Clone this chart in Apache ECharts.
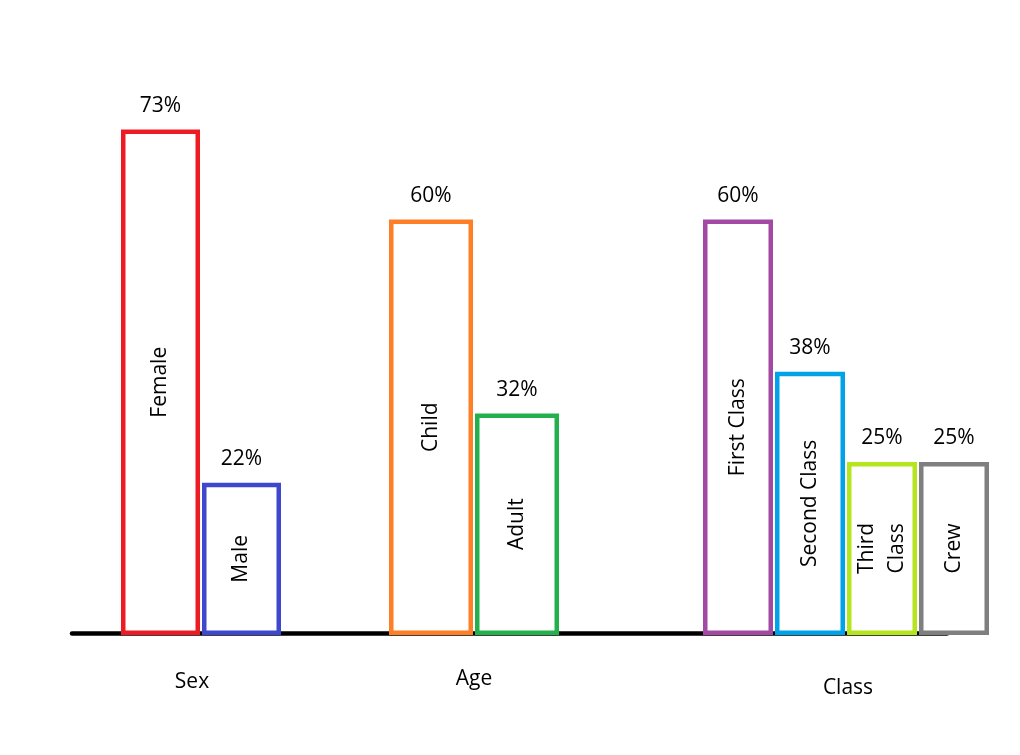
<!DOCTYPE html>
<html><head><meta charset="utf-8">
<script src="https://cdn.jsdelivr.net/npm/echarts@6/dist/echarts.min.js"></script>
<style>html,body{margin:0;background:#fff}#c{width:1020px;height:755px}</style>
</head><body><div id="c"></div>
<script>
const groupNames = ['Sex', 'Age', 'Class'];
const sexCats = ['Female', 'Male'];
const sexVals = [73, 22];
const ageCats = ['Child', 'Adult'];
const ageVals = [60, 32];
const classCats = ['First Class', 'Second Class', 'Third\nClass', 'Crew'];
const classVals = [60, 38, 25, 25];
const sexColors = ['#ED1C24', '#3F48CC'];
const ageColors = ['#FF7F27', '#22B14C'];
const classColors = ['#A349A4', '#00A2E8', '#B5E61D', '#7F7F7F'];

const FONT = 'Open Sans';
const groups = [
  { name: groupNames[0], cats: sexCats, vals: sexVals, colors: sexColors, left: 120, width: 162, bw: 79, nameGap: 37, pad: [0, 18, 0, 0] },
  { name: groupNames[1], cats: ageCats, vals: ageVals, colors: ageColors, left: 388, width: 172, bw: 84, nameGap: 34, pad: [0, 0, 0, 0] },
  { name: groupNames[2], cats: classCats, vals: classVals, colors: classColors, left: 702, width: 288, bw: 70, nameGap: 43, pad: [0, 0, 0, 4] }
];

const grid = [], xAxis = [], yAxis = [], series = [];
groups.forEach((g, i) => {
  grid.push({ left: g.left, width: g.width, top: 81, bottom: 120 });
  xAxis.push({
    type: 'category', gridIndex: i, data: g.cats,
    name: g.name, nameLocation: 'middle', nameGap: g.nameGap,
    nameTextStyle: { fontFamily: FONT, fontSize: 21, color: '#000', padding: g.pad },
    axisLine: { show: false }, axisTick: { show: false }, axisLabel: { show: false }
  });
  yAxis.push({ type: 'value', gridIndex: i, min: 0, max: 80, show: false, splitLine: { show: false } });
  const items = g.vals.map((v, k) => ({
    value: v,
    itemStyle: { color: '#ffffff', borderColor: g.colors[k], borderWidth: 4.5 }
  }));
  series.push({
    type: 'bar', xAxisIndex: i, yAxisIndex: i, data: items,
    barWidth: g.bw, barGap: '-100%', z: 3,
    label: {
      show: true, position: 'inside', rotate: 90, formatter: '{b}',
      fontFamily: FONT, fontSize: 21, color: '#000', lineHeight: 30
    }
  });
  series.push({
    type: 'bar', xAxisIndex: i, yAxisIndex: i, data: g.vals,
    barWidth: g.bw, barGap: '-100%', z: 4, silent: true,
    itemStyle: { color: 'rgba(0,0,0,0)' },
    label: {
      show: true, position: 'top', distance: 13, formatter: '{c}%',
      fontFamily: FONT, fontSize: 21, color: '#000'
    }
  });
});

// baseline axis spanning all groups
grid.push({ left: 72, width: 875, top: 81, bottom: 122 });
xAxis.push({
  type: 'value', gridIndex: 3, min: 0, max: 1,
  axisLine: { show: true, lineStyle: { color: '#000', width: 4.5 } },
  axisTick: { show: false }, axisLabel: { show: false }, splitLine: { show: false }
});
yAxis.push({ type: 'value', gridIndex: 3, min: 0, max: 1, show: false });

const chart = echarts.init(document.getElementById('c'), null, { renderer: 'canvas' });
chart.setOption({
  backgroundColor: '#ffffff',
  animation: false,
  grid, xAxis, yAxis, series
});
</script>
</body></html>
